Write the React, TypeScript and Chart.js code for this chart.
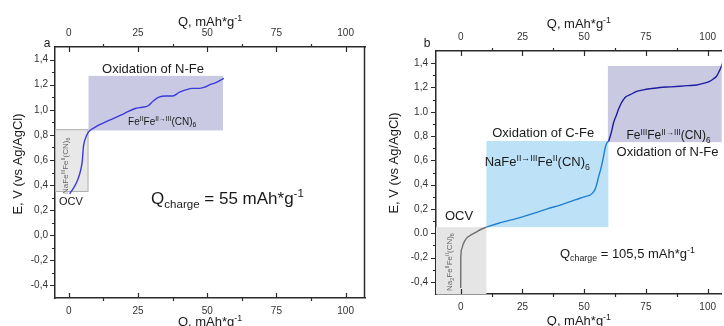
import React, { useEffect, useRef } from 'react';
import { Chart, registerables } from 'chart.js';
Chart.register(...registerables);

const FONT = '"Liberation Sans", Arial, Helvetica, sans-serif';

// ---------- Panel a data ----------
const qA = [0.3, 1.5, 2.8, 3.8, 4.5, 4.9, 5.1, 5.3, 5.8, 7, 9.4, 12, 16, 20, 24, 26.5, 28.5, 30.5, 32.5, 35, 37.5, 40, 42.5, 44.5, 47, 49, 51, 53.5, 56];
const eA = [0.33, 0.37, 0.42, 0.48, 0.54, 0.6, 0.66, 0.71, 0.76, 0.82, 0.86, 0.89, 0.93, 0.97, 1.01, 1.02, 1.03, 1.07, 1.1, 1.11, 1.11, 1.14, 1.16, 1.17, 1.17, 1.18, 1.2, 1.22, 1.25];

// ---------- Panel b data ----------
const qB_ocv = [0, 0.05, 0.4, 1, 2.4, 4.5, 6.3, 8.5, 10.4];
const eB_ocv = [-0.45, -0.2, -0.13, -0.09, -0.04, -0.01, 0.01, 0.035, 0.05];
const qB_c = [10.4, 15, 20.5, 25, 29.8, 35, 40.6, 45, 48.6, 51, 52.6, 53.8, 54.6, 55.3, 55.9, 56.6, 57.3, 58, 58.6, 59.4, 59.9];
const eB_c = [0.05, 0.08, 0.11, 0.135, 0.165, 0.2, 0.234, 0.265, 0.29, 0.305, 0.317, 0.34, 0.37, 0.42, 0.47, 0.52, 0.58, 0.65, 0.71, 0.75, 0.755];
const qB_n = [59.9, 61, 61.9, 63, 63.9, 65, 65.9, 67, 68.6, 71, 74, 77, 80.7, 85, 88.8, 92, 95.5, 98.5, 100.8, 102.3, 103.5, 104.6, 105.5, 106];
const eB_n = [0.755, 0.83, 0.91, 0.97, 1.02, 1.07, 1.1, 1.125, 1.14, 1.165, 1.18, 1.19, 1.2, 1.205, 1.21, 1.215, 1.22, 1.235, 1.25, 1.27, 1.29, 1.33, 1.37, 1.4];

// ---------- ticks ----------
const xTicksMajor = [0, 25, 50, 75, 100];
const xTickLabels = ['0', '25', '50', '75', '100'];
const xTicksMinor = [12.5, 37.5, 62.5, 87.5];
const yTicksMajor = [-0.4, -0.2, 0, 0.2, 0.4, 0.6, 0.8, 1.0, 1.2, 1.4];
const yTickLabelsA = ['-0,4', '-0,2', '0,0', '0,2', '0,4', '0,6', '0,8', '1,0', '1,2', '1,4'];
const yTickLabelsB = ['-0,4', '-0,2', '0.0', '0,2', '0,4', '0,6', '0,8', '1.0', '1,2', '1,4'];
const yTicksMinor = [-0.3, -0.1, 0.1, 0.3, 0.5, 0.7, 0.9, 1.1, 1.3];

const X_TITLE = 'Q, mAh*g^{-1}';
const Y_TITLE = 'E, V (vs Ag/AgCl)';

type Box = { x0: number; x1: number; y0: number; y1: number; fill: string; stroke?: string };
type Txt = { t: string; x: number; y: number; size: number; align: 'left' | 'center'; rot?: boolean; color?: string };

const boxesA: Box[] = [
  { x0: -5, x1: 7.1, y0: 0.345, y1: 0.845, fill: '#e8e8e8', stroke: '#b0b0b0' },
  { x0: 7.1, x1: 55.7, y0: 0.835, y1: 1.27, fill: '#c9c9e3' },
];
const textsA: Txt[] = [
  { t: 'Oxidation of N-Fe', x: 30.4, y: 1.333, size: 13, align: 'center' },
  { t: 'Fe^{II}Fe^{II→III}(CN)_{6}', x: 21.4, y: 0.91, size: 10, align: 'left' },
  { t: 'OCV', x: -3.6, y: 0.27, size: 11, align: 'left' },
  { t: 'Q_{charge} = 55 mAh*g^{-1}', x: 29.7, y: 0.3, size: 17, align: 'left' },
  { t: 'NaFe^{III}Fe^{II}(CN)_{6}', x: -1.4, y: 0.554, size: 8, align: 'center', rot: true, color: '#666' },
];

const boxesB: Box[] = [
  { x0: -10, x1: 10.4, y0: -0.5, y1: 0.05, fill: '#e5e5e5' },
  { x0: 10.4, x1: 59.8, y0: 0.05, y1: 0.759, fill: '#bde2f8' },
  { x0: 59.6, x1: 110, y0: 0.75, y1: 1.377, fill: '#c9c9e2' },
];
const textsB: Txt[] = [
  { t: 'Oxidation of C-Fe', x: 33.4, y: 0.833, size: 13, align: 'center' },
  { t: 'NaFe^{II→III}Fe^{II}(CN)_{6}', x: 9.7, y: 0.589, size: 13, align: 'left' },
  { t: 'Fe^{III}Fe^{II→III}(CN)_{6}', x: 67.1, y: 0.809, size: 12, align: 'left' },
  { t: 'Oxidation of N-Fe', x: 63.1, y: 0.671, size: 13, align: 'left' },
  { t: 'OCV', x: -6.4, y: 0.15, size: 13, align: 'left' },
  { t: 'Q_{charge} = 105,5 mAh*g^{-1}', x: 40.2, y: -0.163, size: 13, align: 'left' },
  { t: 'Na_{2}Fe^{II}Fe^{II}(CN)_{6}', x: -4.8, y: -0.237, size: 8, align: 'center', rot: true, color: '#666' },
];

function parseRich(s: string) {
  const segs: { t: string; m: number }[] = [];
  let i = 0;
  let buf = '';
  while (i < s.length) {
    const c = s[i];
    if ((c === '^' || c === '_') && s[i + 1] === '{') {
      if (buf) segs.push({ t: buf, m: 0 });
      buf = '';
      const j = s.indexOf('}', i);
      segs.push({ t: s.slice(i + 2, j), m: c === '^' ? 1 : -1 });
      i = j + 1;
    } else {
      buf += c;
      i++;
    }
  }
  if (buf) segs.push({ t: buf, m: 0 });
  return segs;
}

function drawRich(ctx: CanvasRenderingContext2D, s: string, x: number, y: number, size: number, color: string, align: 'left' | 'center') {
  const segs = parseRich(s);
  const small = size * 0.68;
  const widths = segs.map((sg) => {
    ctx.font = `${sg.m ? small : size}px ${FONT}`;
    return ctx.measureText(sg.t).width;
  });
  const total = widths.reduce((a, b) => a + b, 0);
  let cx = align === 'center' ? x - total / 2 : x;
  const base = y + size * 0.36;
  ctx.fillStyle = color;
  ctx.textBaseline = 'alphabetic';
  ctx.textAlign = 'left';
  segs.forEach((sg, k) => {
    ctx.font = `${sg.m ? small : size}px ${FONT}`;
    const dy = sg.m === 1 ? -size * 0.38 : sg.m === -1 ? size * 0.28 : 0;
    ctx.fillText(sg.t, cx, base + dy);
    cx += widths[k];
  });
}

type Spec = {
  id: string;
  width: number;
  xMin: number;
  xMax: number;
  yAxisW: number;
  topH: number;
  botH: number;
  padRight: number;
  yPad: number;
  xTopPad: number;
  xBotPad: number;
  yLabels: string[];
  datasets: { q: number[]; e: number[]; color: string }[];
  boxes: Box[];
  texts: Txt[];
  rightBorder: boolean;
  topTitleY: number;
  botTitleY: number;
  yTitleX: number;
  yTitleY: number;
  panel: string;
  panelX: number;
  panelY: number;
};

const specA: Spec = {
  id: 'a', width: 368, xMin: -5, xMax: 107, yAxisW: 55, topH: 47, botH: 28, padRight: 3,
  yPad: 7, xTopPad: 8, xBotPad: 7, yLabels: yTickLabelsA,
  datasets: [{ q: qA, e: eA, color: '#3a3adc' }],
  boxes: boxesA, texts: textsA, rightBorder: true,
  topTitleY: 21, botTitleY: 321, yTitleX: 17, yTitleY: 164,
  panel: 'a', panelX: 47, panelY: 43,
};

const specB: Spec = {
  id: 'b', width: 358, xMin: -10, xMax: 105.7, yAxisW: 70, topH: 51, botH: 32, padRight: 0,
  yPad: 8, xTopPad: 8, xBotPad: 7, yLabels: yTickLabelsB,
  datasets: [
    { q: qB_ocv, e: eB_ocv, color: '#6e6e6e' },
    { q: qB_c, e: eB_c, color: '#1f7fcf' },
    { q: qB_n, e: eB_n, color: '#1c1ca2' },
  ],
  boxes: boxesB, texts: textsB, rightBorder: false,
  topTitleY: 23, botTitleY: 320, yTitleX: 27, yTitleY: 163,
  panel: 'b', panelX: 61, panelY: 43,
};

function makeChart(canvas: HTMLCanvasElement, spec: Spec) {
  const AX = '#2a2a2a';
  const plugin = {
    id: 'ann_' + spec.id,
    beforeDatasetsDraw(chart: any) {
      const { ctx, chartArea: ca, scales } = chart;
      const x = scales.x, y = scales.y;
      ctx.save();
      ctx.beginPath();
      ctx.rect(ca.left, ca.top, ca.right - ca.left, ca.bottom - ca.top);
      ctx.clip();
      for (const b of spec.boxes) {
        const px0 = x.getPixelForValue(b.x0), px1 = x.getPixelForValue(b.x1);
        const py0 = y.getPixelForValue(b.y0), py1 = y.getPixelForValue(b.y1);
        const l = Math.min(px0, px1), t = Math.min(py0, py1);
        const w = Math.abs(px1 - px0), h = Math.abs(py1 - py0);
        ctx.fillStyle = b.fill;
        ctx.fillRect(l, t, w, h);
        if (b.stroke) {
          ctx.strokeStyle = b.stroke;
          ctx.lineWidth = 1;
          ctx.strokeRect(l + 0.5, t + 0.5, w - 1, h - 1);
        }
      }
      ctx.restore();
    },
    afterDatasetsDraw(chart: any) {
      const { ctx, scales } = chart;
      const x = scales.x, y = scales.y;
      for (const tx of spec.texts) {
        const px = x.getPixelForValue(tx.x), py = y.getPixelForValue(tx.y);
        const col = tx.color || '#1a1a1a';
        if (tx.rot) {
          ctx.save();
          ctx.translate(px, py);
          ctx.rotate(-Math.PI / 2);
          drawRich(ctx, tx.t, 0, 0, tx.size, col, 'center');
          ctx.restore();
        } else {
          drawRich(ctx, tx.t, px, py, tx.size, col, tx.align);
        }
      }
    },
    afterDraw(chart: any) {
      const { ctx, chartArea: ca, scales } = chart;
      const x = scales.x, y = scales.y;
      ctx.save();
      ctx.strokeStyle = AX;
      ctx.lineWidth = 1.2;
      ctx.beginPath();
      for (const v of xTicksMajor) {
        const p = Math.round(x.getPixelForValue(v)) + 0.5;
        ctx.moveTo(p, ca.bottom); ctx.lineTo(p, ca.bottom - 5);
        ctx.moveTo(p, ca.top); ctx.lineTo(p, ca.top + 5);
      }
      for (const v of xTicksMinor) {
        const p = Math.round(x.getPixelForValue(v)) + 0.5;
        ctx.moveTo(p, ca.bottom); ctx.lineTo(p, ca.bottom + 3);
        ctx.moveTo(p, ca.top); ctx.lineTo(p, ca.top - 3);
      }
      for (const v of yTicksMajor) {
        const p = Math.round(y.getPixelForValue(v)) + 0.5;
        ctx.moveTo(ca.left, p); ctx.lineTo(ca.left - 5, p);
      }
      for (const v of yTicksMinor) {
        const p = Math.round(y.getPixelForValue(v)) + 0.5;
        ctx.moveTo(ca.left, p); ctx.lineTo(ca.left - 3, p);
      }
      ctx.stroke();
      if (spec.rightBorder) {
        ctx.lineWidth = 1.5;
        ctx.beginPath();
        ctx.moveTo(ca.right - 0.5, ca.top);
        ctx.lineTo(ca.right - 0.5, ca.bottom);
        ctx.stroke();
      }
      const cx = (ca.left + ca.right) / 2;
      drawRich(ctx, X_TITLE, cx, spec.topTitleY, 13, '#1a1a1a', 'center');
      drawRich(ctx, X_TITLE, cx, spec.botTitleY, 13, '#1a1a1a', 'center');
      ctx.save();
      ctx.translate(spec.yTitleX, spec.yTitleY);
      ctx.rotate(-Math.PI / 2);
      drawRich(ctx, Y_TITLE, 0, 0, 13, '#1a1a1a', 'center');
      ctx.restore();
      drawRich(ctx, spec.panel, spec.panelX, spec.panelY, 12, '#1a1a1a', 'center');
      ctx.restore();
    },
  };

  const tickFont = { family: FONT, size: 10 };
  const xCommon = (pos: 'top' | 'bottom', h: number, pad: number) => ({
    type: 'linear' as const,
    position: pos,
    min: spec.xMin,
    max: spec.xMax,
    afterBuildTicks: (s: any) => { s.ticks = xTicksMajor.map((v) => ({ value: v })); },
    afterFit: (s: any) => { s.height = h; },
    grid: { display: false, drawTicks: false },
    border: { display: true, color: AX, width: 1.5 },
    ticks: {
      font: tickFont,
      color: '#333',
      padding: pad,
      maxRotation: 0,
      autoSkip: false,
      callback: (v: number) => xTickLabels[xTicksMajor.indexOf(v)] ?? '',
    },
  });

  return new Chart(canvas, {
    type: 'line',
    data: {
      datasets: spec.datasets.map((d) => ({
        data: d.q.map((q, i) => ({ x: q, y: d.e[i] })),
        borderColor: d.color,
        borderWidth: 1.4,
        pointRadius: 0,
        fill: false,
        cubicInterpolationMode: 'monotone' as const,
        xAxisID: 'x',
        yAxisID: 'y',
      })),
    },
    options: {
      animation: false,
      responsive: false,
      devicePixelRatio: 1,
      layout: { padding: { left: 0, right: spec.padRight, top: 0, bottom: 0 } },
      plugins: { legend: { display: false }, tooltip: { enabled: false } },
      scales: {
        x: xCommon('bottom', spec.botH, spec.xBotPad),
        x2: xCommon('top', spec.topH, spec.xTopPad),
        y: {
          type: 'linear',
          position: 'left',
          min: -0.5,
          max: 1.5,
          afterBuildTicks: (s: any) => { s.ticks = yTicksMajor.map((v) => ({ value: v })); },
          afterFit: (s: any) => { s.width = spec.yAxisW; },
          grid: { display: false, drawTicks: false },
          border: { display: true, color: AX, width: 1.5 },
          ticks: {
            font: tickFont,
            color: '#333',
            padding: spec.yPad,
            autoSkip: false,
            callback: (v: number) => spec.yLabels[yTicksMajor.indexOf(v)] ?? '',
          },
        },
      },
    },
    plugins: [plugin],
  } as any);
}

function Panel({ spec, left }: { spec: Spec; left: number }) {
  const ref = useRef<HTMLCanvasElement>(null);
  useEffect(() => {
    if (!ref.current) return;
    const c = makeChart(ref.current, spec);
    return () => c.destroy();
  }, [spec]);
  return (
    <canvas
      ref={ref}
      width={spec.width}
      height={326}
      style={{ position: 'absolute', left, top: 0, width: spec.width, height: 326 }}
    />
  );
}

export default function App() {
  return (
    <div style={{ position: 'fixed', left: 0, top: 0, width: 724, height: 326, background: '#fff', overflow: 'hidden' }}>
      <Panel spec={specA} left={0} />
      <Panel spec={specB} left={366} />
    </div>
  );
}
